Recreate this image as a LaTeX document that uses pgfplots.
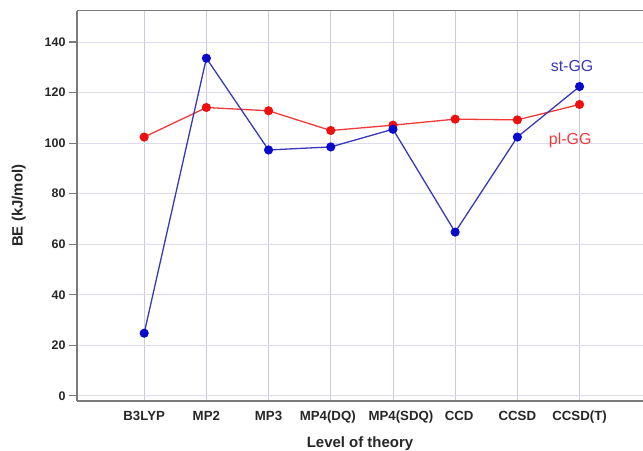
\documentclass[border=0pt]{standalone}
\usepackage{pgfplots}
\pgfplotsset{compat=1.18}
\usepackage{fontspec}
\setmainfont{Liberation Sans}
\definecolor{stblue}{HTML}{3838B8}
\definecolor{stmark}{HTML}{0A0ACC}
\definecolor{plred}{HTML}{F03A3A}
\definecolor{plmark}{HTML}{EE1010}
\definecolor{hgrid}{HTML}{DCDCF2}
\definecolor{vgrid}{HTML}{CACADA}
\definecolor{axgray}{HTML}{7A7A7A}
\begin{document}
\begin{tikzpicture}[x=1bp,y=1bp]
\begin{axis}[
  at={(77bp,50.3bp)}, anchor=south west,
  scale only axis, width=566bp, height=390bp,
  xmin=-1.08, xmax=8.02, ymin=-1.9, ymax=152.4,
  xtick={0,1,2,3,4,5,6,7},
  xticklabels={B3LYP,MP2,MP3,MP4(DQ)\hspace*{6bp},\hspace*{16bp}MP4(SDQ),\hspace*{8bp}CCD,CCSD,CCSD(T)},
  ytick={0,20,40,60,80,100,120,140},
  axis lines*=left,
  axis line style={draw=axgray, line width=1.6bp, -},
  tick align=outside,
  major tick length=8bp,
  xtick style={draw=none},
  ytick style={draw=axgray, line width=1.2bp},
  xmajorgrids, ymajorgrids,
  x grid style={draw=vgrid, line width=0.8bp},
  y grid style={draw=hgrid, line width=1bp},
  /pgf/number format/assume math mode=true,
  ticklabel style={font=\fontsize{13.3}{15}\selectfont\bfseries, text=black!85},
  yticklabel style={font=\fontsize{12.5}{14}\selectfont\bfseries},
  xticklabel style={anchor=base, text depth=0pt, yshift=-12bp, at={(axis cs:\tick,-1.9)}},
  xlabel={Level of theory},
  ylabel={BE (kJ/mol)},
  label style={font=\fontsize{15}{17}\selectfont\bfseries, text=black!85},
  xlabel style={at={(axis description cs:0.5,0)}, anchor=center, yshift=-43bp},
  ylabel style={at={(axis description cs:-0.103,0.5)}, anchor=center},
  clip=false,
]
\addplot[color=plred, line width=1.3bp, mark=*, mark size=3.9bp, mark options={fill=plmark, draw=plmark}]
  coordinates {(0,102.4) (1,114.1) (2,112.8) (3,105.0) (4,107.1) (5,109.5) (6,109.2) (7,115.3)};
\addplot[color=stblue, line width=1.3bp, mark=*, mark size=3.9bp, mark options={fill=stmark, draw=stmark}]
  coordinates {(0,24.8) (1,133.6) (2,97.3) (3,98.5) (4,105.5) (5,64.8) (6,102.4) (7,122.4)};
\node[font=\fontsize{16}{18}\selectfont, text=stblue] at (axis cs:6.88,130.6) {st-GG};
\node[font=\fontsize{16}{18}\selectfont, text=plred] at (axis cs:6.85,100.9) {pl-GG};
\draw[axgray, line width=1.6bp] (rel axis cs:0,1) -- (rel axis cs:1,1);
\end{axis}
\pgfresetboundingbox
\path[use as bounding box] (0,0) rectangle (643bp,451bp);
\end{tikzpicture}
\end{document}
